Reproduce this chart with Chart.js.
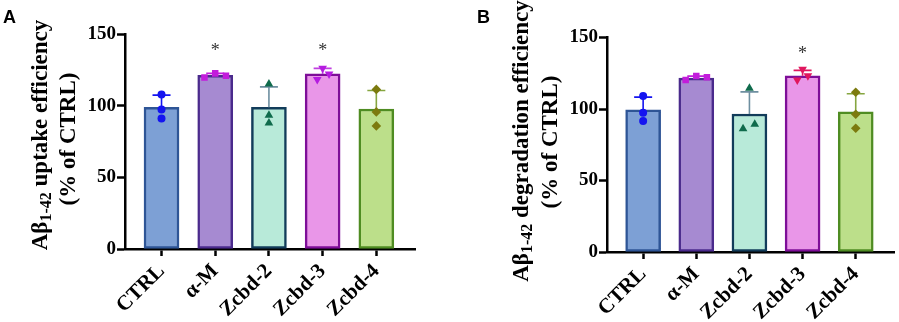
<!DOCTYPE html>
<html>
<head>
<meta charset="utf-8">
<script src="https://cdn.jsdelivr.net/npm/chart.js@4.4.0/dist/chart.umd.min.js"></script>
<style>
  html, body { margin: 0; padding: 0; background: #fff; }
  #wrap { position: relative; width: 899px; height: 322px; overflow: hidden; }
  .panel { position: absolute; top: 0; }
  .tag { position: absolute; font: bold 18px "Liberation Sans", Arial, sans-serif; line-height: 18px; color: #000; }
</style>
</head>
<body>
<div id="wrap">
  <canvas id="chartA" class="panel" style="left:0" width="450" height="322"></canvas>
  <canvas id="chartB" class="panel" style="left:450px" width="449" height="322"></canvas>
  <div class="tag" style="left:3px;top:8px">A</div>
  <div class="tag" style="left:477px;top:8px">B</div>
</div>
<script>
// categories
const groups = ["CTRL", "α-M", "Zcbd-2", "Zcbd-3", "Zcbd-4"];

// panel A - uptake (% of CTRL)
const uptakeMean = [99.0, 121.3, 99.0, 122.3, 97.8];
const uptakeSD = [8.5, 1.4, 14.3, 3.9, 12.9];
const uptakePoints = [[108.0, 97.5, 91.2], [119.9, 122.7, 121.0], [115.2, 93.5, 88.1], [126.2, 118.5, 122.2], [111.5, 95.8, 86.0]];
const uptakeJitter = [[0, 0, 0], [-0.2, 0, 0.2], [0, 0, 0], [0, -0.1, 0.12], [0, 0, 0]];
const uptakeStars = ["", "*", "", "*", ""];

// panel B - degradation (% of CTRL)
const degradMean = [99.4, 121.6, 96.5, 123.2, 98.0];
const degradSD = [8.9, 1.4, 15.5, 3.8, 12.7];
const degradPoints = [[109.1, 97.4, 91.6], [120.3, 123.1, 122.2], [114.5, 86.2, 89.3], [127.8, 120.3, 123.3], [111.7, 96.3, 86.5]];
const degradJitter = [[0, 0, 0], [-0.2, 0, 0.2], [0, -0.12, 0.1], [0, -0.1, 0.1], [0, 0, 0]];
const degradStars = ["", "", "", "*", ""];

const yTicks = [0, 50, 100, 150];

// styles
const barFill = ["#7DA0D5", "#A68AD1", "#B8EAD9", "#E996E8", "#BCDF8A"];
const barBorder = ["#2E5596", "#4A2A8C", "#123C5A", "#7E0E98", "#4F8C22"];
const pointStyles = ["circle", "rect", "triangle", "triangle", "rectRot"];
const pointRot = [0, 0, 0, 180, 0];
const pointRadius = [4, 4.6, 5, 5, 4.8];
const pointColA = ["#1414F0", "#C21CDB", "#0F6B4C", "#B51CE0", "#7C7A0E"];
const pointColB = ["#1414F0", "#C21CDB", "#0F6B4C", "#E0165E", "#7C7A0E"];
const errColA = ["#1414F0", "#C21CDB", "#6E8FA0", "#C040E0", "#86A640"];
const errColB = ["#1414F0", "#C21CDB", "#6E8FA0", "#E0165E", "#86A640"];

const SERIF = "'Liberation Serif', 'Times New Roman', serif";

function makePanel(id, p) {
  const errorBars = {
    id: "errorBars",
    afterDatasetDraw(chart, args) {
      if (args.index !== 0) return;
      const { ctx, scales: { x, y } } = chart;
      ctx.save();
      ctx.lineWidth = 1.6;
      p.mean.forEach((m, i) => {
        const px = x.getPixelForValue(i);
        const top = y.getPixelForValue(m + p.sd[i]);
        const base = y.getPixelForValue(m);
        ctx.strokeStyle = p.errCol[i];
        ctx.beginPath();
        ctx.moveTo(px, base);
        ctx.lineTo(px, top);
        ctx.moveTo(px - 9, top);
        ctx.lineTo(px + 9, top);
        ctx.stroke();
      });
      ctx.restore();
    },
  };

  const extras = {
    id: "extras",
    afterDraw(chart) {
      const { ctx, chartArea, scales: { x, y } } = chart;
      ctx.save();
      // significance stars
      ctx.font = "18px " + SERIF;
      ctx.fillStyle = "#333";
      ctx.textAlign = "center";
      ctx.textBaseline = "alphabetic";
      p.stars.forEach((s, i) => {
        if (s) ctx.fillText(s, x.getPixelForValue(i), y.getPixelForValue(140.5) + 8);
      });
      // rotated y title, two lines, with subscript
      const big = "bold 23px " + SERIF;
      const small = "bold 16px " + SERIF;
      p.title.forEach((line, li) => {
        let w = 0;
        line.forEach(seg => {
          ctx.font = seg.sub ? small : big;
          w += ctx.measureText(seg.t).width;
        });
        ctx.save();
        ctx.translate(chartArea.left + p.titleX[li], p.titleY[li]);
        ctx.rotate(-Math.PI / 2);
        ctx.fillStyle = "#000";
        ctx.textAlign = "left";
        ctx.textBaseline = "middle";
        let cx = -w / 2;
        line.forEach(seg => {
          ctx.font = seg.sub ? small : big;
          ctx.fillText(seg.t, cx, seg.sub ? 6 : 0);
          cx += ctx.measureText(seg.t).width;
        });
        ctx.restore();
      });
      ctx.restore();
    },
  };

  const datasets = [{
    type: "bar",
    data: groups.map((g, i) => ({ x: i, y: p.mean[i] })),
    backgroundColor: barFill,
    borderColor: barBorder,
    borderWidth: 2.5,
    borderSkipped: false,
    barThickness: 35,
    order: 1,
  }];
  groups.forEach((g, i) => {
    datasets.push({
      type: "scatter",
      data: p.points[i].map((v, k) => ({ x: i + p.jitter[i][k], y: v })),
      pointStyle: pointStyles[i],
      rotation: pointRot[i],
      pointRadius: pointRadius[i],
      backgroundColor: p.pointCol[i],
      borderColor: p.pointCol[i],
      borderWidth: 0,
      order: 0,
    });
  });

  return new Chart(document.getElementById(id), {
    data: { datasets },
    options: {
      responsive: false,
      animation: false,
      events: [],
      layout: { padding: p.padding },
      plugins: { legend: { display: false }, tooltip: { enabled: false } },
      scales: {
        x: {
          type: "linear",
          min: -0.68,
          max: 4.72,
          offset: false,
          afterBuildTicks: s => { s.ticks = groups.map((g, i) => ({ value: i })); },
          afterFit: s => { s.height = p.xHeight; },
          ticks: {
            callback: v => groups[v],
            autoSkip: false,
            minRotation: 45,
            maxRotation: 45,
            padding: 3,
            color: "#000",
            font: { family: SERIF, size: 21, weight: "bold" },
          },
          grid: { offset: false, drawOnChartArea: false, tickLength: 7, tickWidth: 2.5, tickColor: "#000" },
          border: { display: true, color: "#000", width: 2.5 },
        },
        y: {
          min: 0,
          max: 150,
          afterBuildTicks: s => { s.ticks = yTicks.map(v => ({ value: v })); },
          afterFit: s => { s.width = p.yWidth; },
          ticks: {
            padding: 1,
            color: "#000",
            font: { family: SERIF, size: 19, weight: "bold" },
          },
          grid: { drawOnChartArea: false, tickLength: 8, tickWidth: 2.5, tickColor: "#000" },
          border: { display: true, color: "#000", width: 2.5 },
        },
      },
    },
    plugins: [errorBars, extras],
  });
}

makePanel("chartA", {
  mean: uptakeMean, sd: uptakeSD, points: uptakePoints, jitter: uptakeJitter, stars: uptakeStars,
  pointCol: pointColA, errCol: errColA,
  title: [[{ t: "Aβ" }, { t: "1-42", sub: true }, { t: " uptake efficiency" }], [{ t: "(% of CTRL)" }]],
  titleX: [-84, -56], titleY: [135, 139],
  padding: { left: 0, top: 34.3, right: 35, bottom: 0 },
  yWidth: 125, xHeight: 73,
});

makePanel("chartB", {
  mean: degradMean, sd: degradSD, points: degradPoints, jitter: degradJitter, stars: degradStars,
  pointCol: pointColB, errCol: errColB,
  title: [[{ t: "Aβ" }, { t: "1-42", sub: true }, { t: " degradation efficiency" }], [{ t: "(% of CTRL)" }]],
  titleX: [-85, -56], titleY: [141, 142],
  padding: { left: 0, top: 37.5, right: 2, bottom: 0 },
  yWidth: 157, xHeight: 70,
});
</script>
</body>
</html>
